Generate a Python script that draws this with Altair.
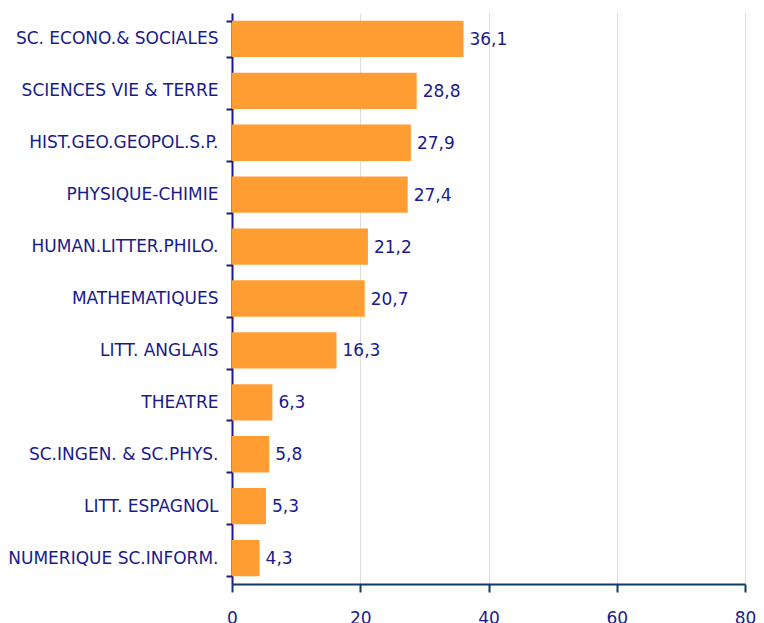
import altair as alt
import pandas as pd

categories = ["SC. ECONO.& SOCIALES", "SCIENCES VIE & TERRE", "HIST.GEO.GEOPOL.S.P.",
              "PHYSIQUE-CHIMIE", "HUMAN.LITTER.PHILO.", "MATHEMATIQUES", "LITT. ANGLAIS",
              "THEATRE", "SC.INGEN. & SC.PHYS.", "LITT. ESPAGNOL", "NUMERIQUE SC.INFORM."]
values = [36.1, 28.8, 27.9, 27.4, 21.2, 20.7, 16.3, 6.3, 5.8, 5.3, 4.3]
x_ticks = [0, 20, 40, 60, 80]

df = pd.DataFrame({"cat": categories, "val": values,
                   "lab": [f"{v:.1f}".replace(".", ",") for v in values]})

NAVY = "#1a1a8c"
FONT = "DejaVu Sans"

y_enc = alt.Y("cat:N", sort=categories, title=None,
              scale=alt.Scale(paddingInner=0.3, paddingOuter=0.15),
              axis=alt.Axis(tickBand="extent", labelColor=NAVY, labelFont=FONT,
                            labelFontSize=17, domainColor=NAVY, tickColor=NAVY,
                            tickSize=6, labelPadding=8, domainWidth=2, tickWidth=2,
                            labelLimit=300))
x_enc = alt.X("val:Q", title=None,
              scale=alt.Scale(domain=[0, 80], nice=False),
              axis=alt.Axis(values=x_ticks, grid=True, gridColor="#dddddd",
                            domainColor="#0d3b66", tickColor="#0d3b66", domainWidth=2,
                            tickWidth=2, tickSize=8, labelColor=NAVY, labelFont=FONT,
                            labelFontSize=17, labelPadding=18, labelFlush=False))

bars = alt.Chart(df).mark_bar(color="#FF9D33").encode(x=x_enc, y=y_enc)
text = alt.Chart(df).mark_text(align="left", baseline="middle", dx=6, dy=1, color=NAVY,
                               font=FONT, fontSize=17).encode(
    x=alt.X("val:Q"), y=alt.Y("cat:N", sort=categories), text="lab:N")

chart = (bars + text).properties(
    width=513, height=571,
    padding={"left": 224, "top": 5, "right": 11, "bottom": 40},
    autosize=alt.AutoSizeParams(type="none"),
).configure_view(stroke=None)

chart.save("out.html", embed_options={"renderer": "svg", "actions": False})
